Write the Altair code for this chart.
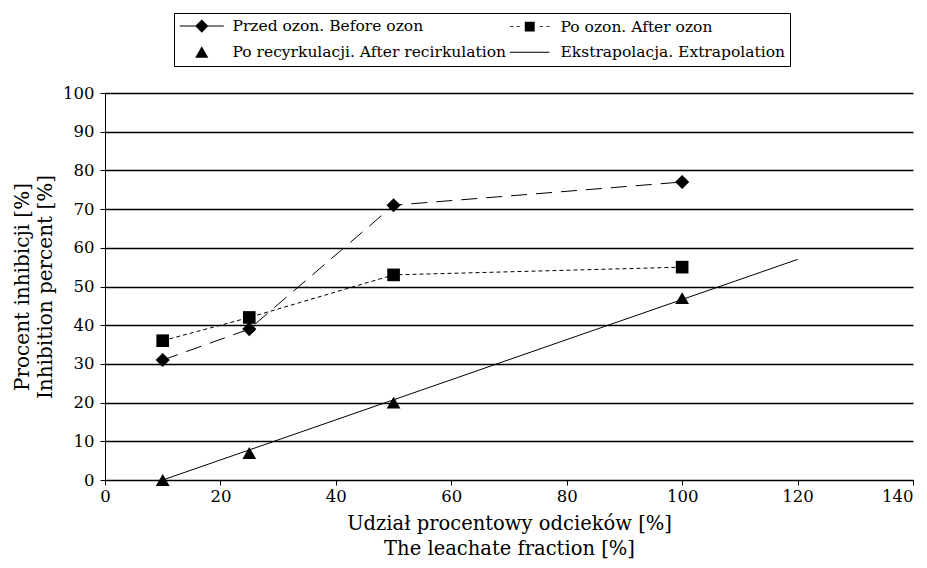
import altair as alt
import pandas as pd

# ---- data ----
fraction = [10, 25, 50, 100]
before_ozon = [31, 39, 71, 77]
after_ozon = [36, 42, 53, 55]
after_recirc = [0, 7, 20, 47]
extrap_x = [10, 120]
extrap_y = [0, 57]

# legend order chosen so that the 2-column legend reads like the reference
series_labels = [
    "Przed ozon. Before ozon",
    "Po recyrkulacji. After recirkulation",
    "Po ozon. After ozon",
    "Ekstrapolacja. Extrapolation",
]
T = 0.09  # half thickness of legend line strokes (symbol units)
legend_paths = [
    f"M-4,-{T}L4,-{T}L4,{T}L-4,{T}ZM0,-1.2L1.2,0L0,1.2L-1.2,0Z",
    "M0,-1.1L1.2,1L-1.2,1Z",
    (f"M-3.6,-{T}L-3.0,-{T}L-3.0,{T}L-3.6,{T}Z"
     f"M-2.4,-{T}L-1.8,-{T}L-1.8,{T}L-2.4,{T}Z"
     "M-0.9,-0.9L0.9,-0.9L0.9,0.9L-0.9,0.9Z"
     f"M1.8,-{T}L2.4,-{T}L2.4,{T}L1.8,{T}Z"
     f"M3.0,-{T}L3.6,-{T}L3.6,{T}L3.0,{T}Z"),
    f"M-3.6,-{T}L3.6,-{T}L3.6,{T}L-3.6,{T}Z",
]

x_ticks = [0, 20, 40, 60, 80, 100, 120, 140]
y_ticks = [0, 10, 20, 30, 40, 50, 60, 70, 80, 90, 100]

FONT = "DejaVu Serif"

df = pd.DataFrame({"x": fraction, "before": before_ozon, "after": after_ozon, "recirc": after_recirc})
df_ext = pd.DataFrame({"x": extrap_x, "y": extrap_y})
df_leg = pd.DataFrame({"series": series_labels})

x_scale = alt.Scale(domain=[0, 140], nice=False, zero=False)
y_scale = alt.Scale(domain=[0, 100], nice=False)

x_axis = alt.Axis(
    values=x_ticks, grid=False, tickSize=5, tickColor="black", domainColor="black",
    labelFont=FONT, labelFontSize=16.5, labelColor="black", labelPadding=3, labelFlush=False,
    labelAlign={"condition": {"test": "datum.value >= 140", "value": "right"}, "value": "center"},
    title=["Udział procentowy odcieków [%]", "The leachate fraction [%]"],
    titleFont=FONT, titleFontSize=19.5, titleFontWeight="normal", titleColor="black",
    titleX=404, titleY=43, titleAlign="center", titleBaseline="middle", titleLineHeight=25,
)
y_axis = alt.Axis(
    values=y_ticks, grid=True, gridColor="black", gridWidth=1.3, gridOpacity=1,
    tickSize=5, tickColor="black", domainColor="black",
    labelFont=FONT, labelFontSize=16.5, labelColor="black", labelPadding=6, labelOverlap=False,
    title=["Procent inhibicji [%]", "Inhibition percent [%]"],
    titleFont=FONT, titleFontSize=20, titleFontWeight="normal", titleColor="black",
    titleAngle=270, titleX=-83, titleY=193.5, titleAlign="center", titleBaseline="middle",
    titleLineHeight=23,
)


def X(field):
    return alt.X(field, type="quantitative", scale=x_scale, axis=x_axis)


def Y(field):
    return alt.Y(field, type="quantitative", scale=y_scale, axis=y_axis)


base = alt.Chart(df)

before_line = base.mark_line(color="black", strokeWidth=1, strokeDash=[16, 9]).encode(
    x=X("x"), y=Y("before")
)
before_pts = base.mark_point(shape="diamond", filled=True, color="black", size=200, opacity=1).encode(
    x=X("x"), y=Y("before")
)
after_line = base.mark_line(color="black", strokeWidth=1, strokeDash=[4, 3]).encode(
    x=X("x"), y=Y("after")
)
after_pts = base.mark_point(shape="square", filled=True, color="black", size=160, opacity=1).encode(
    x=X("x"), y=Y("after")
)
recirc_pts = base.mark_point(shape="triangle-up", filled=True, color="black", size=190, opacity=1).encode(
    x=X("x"), y=Y("recirc")
)
extrap_line = alt.Chart(df_ext).mark_line(color="black", strokeWidth=1).encode(
    x=X("x"), y=Y("y")
)

legend_layer = alt.Chart(df_leg).transform_filter("false").mark_point(
    filled=True, color="black", opacity=1
).encode(
    shape=alt.Shape(
        "series:N",
        scale=alt.Scale(domain=series_labels, range=legend_paths),
        legend=alt.Legend(
            title=None, orient="none", legendX=69, legendY=-80, columns=2,
            columnPadding=0, rowPadding=6.5, padding=5, strokeColor="black",
            symbolSize=121, symbolOffset=15, labelOffset=23,
            symbolFillColor="black",
            labelFont=FONT, labelFontSize=15.5, labelColor="black", labelLimit=400,
        ),
    )
)

chart = alt.layer(
    extrap_line, before_line, after_line, before_pts, after_pts, recirc_pts, legend_layer
).properties(
    width=808, height=387,
    autosize=alt.AutoSizeParams(type="none"),
    padding={"left": 105, "top": 93, "right": 14, "bottom": 88},
    background="white",
).configure_view(stroke=None)

chart.save("out.html", embed_options={"renderer": "svg", "actions": False})
